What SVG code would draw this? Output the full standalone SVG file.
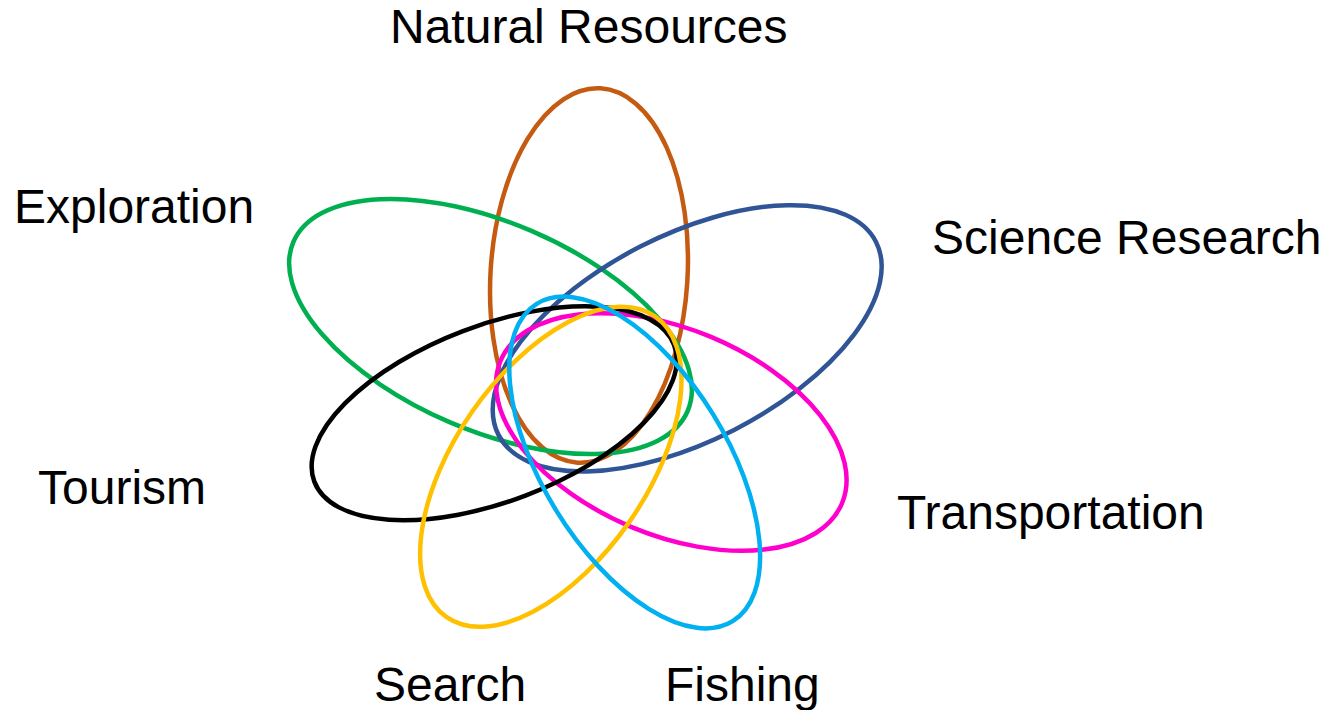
<svg xmlns="http://www.w3.org/2000/svg" width="1326" height="710" viewBox="0 0 1326 710">
<style>
.s{fill:none;stroke-width:4.5}
.t{font-family:"Liberation Sans",Arial,sans-serif;font-size:48px;fill:#000}
</style>
<rect width="1326" height="710" fill="#fff"/>
<g id="natural-resources">
<ellipse class="s" stroke="#C55A11" cx="589" cy="275.5" rx="98.5" ry="187.5" transform="rotate(3.5 589 275.5)"/>
<text class="t" x="390" y="43">Natural Resources</text>
</g>
<g id="exploration">
<ellipse class="s" stroke="#00B050" cx="490.5" cy="326.5" rx="214.5" ry="104" transform="rotate(23.2 490.5 326.5)"/>
<text class="t" x="14" y="223">Exploration</text>
</g>
<g id="science-research">
<ellipse class="s" stroke="#2F5597" cx="687.2" cy="338.3" rx="212" ry="103" transform="rotate(-27.1 687.2 338.3)"/>
<text class="t" x="932" y="254">Science Research</text>
</g>
<g id="transportation">
<ellipse class="s" stroke="#FF00CC" cx="671.3" cy="432" rx="185" ry="103" transform="rotate(22.65 671.3 432)"/>
<text class="t" x="897" y="529">Transportation</text>
</g>
<g id="tourism">
<ellipse class="s" stroke="#000000" cx="494.2" cy="413.3" rx="192.4" ry="88" transform="rotate(-20.8 494.2 413.3)"/>
<text class="t" x="38" y="504">Tourism</text>
</g>
<g id="search">
<ellipse class="s" stroke="#FFC000" cx="550.8" cy="466.7" rx="183" ry="96" transform="rotate(-55.3 550.8 466.7)"/>
<text class="t" x="374" y="701">Search</text>
</g>
<g id="fishing">
<ellipse class="s" stroke="#00B0F0" cx="634.7" cy="462.5" rx="186.5" ry="92" transform="rotate(58.3 634.7 462.5)"/>
<text class="t" x="665" y="701">Fishing</text>
</g>
<g id="connectors"/>
</svg>
